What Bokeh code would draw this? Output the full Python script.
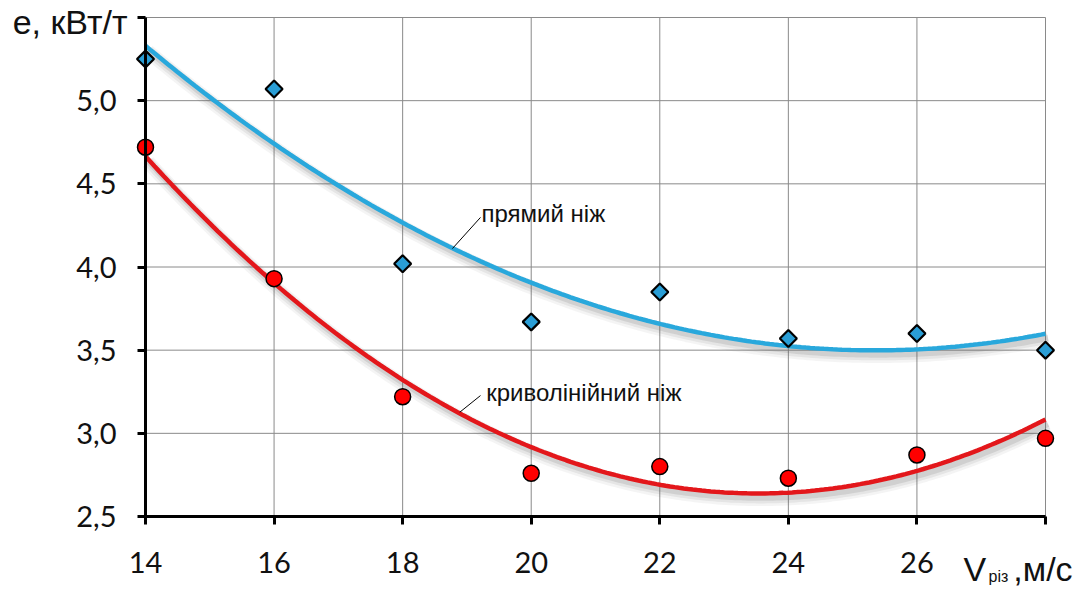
import numpy as np
from bokeh.plotting import figure
from bokeh.models import Label, FixedTicker, Range1d, LinearAxis
from bokeh.embed import file_html
from bokeh.resources import INLINE

speed = [14, 16, 18, 20, 22, 24, 26, 28]
straight_knife = [5.25, 5.07, 4.02, 3.67, 3.85, 3.57, 3.60, 3.50]
curved_knife = [4.72, 3.93, 3.22, 2.76, 2.80, 2.73, 2.87, 2.97]
x_ticks = [14, 16, 18, 20, 22, 24, 26, 28]
y_ticks = [2.5, 3.0, 3.5, 4.0, 4.5, 5.0, 5.5]

BLUE = "#29a8dc"
RED = "#e3171b"

X0, X1 = 14, 28
Y0, Y1 = 2.5, 5.5
W, H = 1079, 590
# frame fills the canvas; data box sits at canvas px x 145..1045, y 17..516
L, R, T, B = 145, 1045, 17, 516
sx = (R - L) / (X1 - X0)
sy = (B - T) / (Y1 - Y0)
p = figure(width=W, height=H, output_backend="svg", toolbar_location=None,
           x_axis_location=None, y_axis_location=None,
           x_range=Range1d(X0 - L / sx, X1 + (W - R) / sx),
           y_range=Range1d(Y0 - (H - B) / sy, Y1 + T / sy),
           min_border_left=0, min_border_right=0, min_border_top=0, min_border_bottom=0)
p.outline_line_color = None
p.background_fill_color = "white"
p.xgrid.visible = False
p.ygrid.visible = False

# grid lines within the data box
p.segment(x0=x_ticks, y0=[Y0] * len(x_ticks), x1=x_ticks, y1=[Y1] * len(x_ticks),
          line_color="#8a8a8a", line_width=1)
p.segment(x0=[X0] * len(y_ticks), y0=y_ticks, x1=[X1] * len(y_ticks), y1=y_ticks,
          line_color="#8a8a8a", line_width=1)

# trend curves: quadratic least-squares fit of each series
xs = np.linspace(X0, X1, 200)
for data, col in [(straight_knife, BLUE), (curved_knife, RED)]:
    coef = np.polyfit(speed, data, 2)
    ys = np.polyval(coef, xs)
    for w, a, dy in [(14, 0.07, -0.034), (10, 0.10, -0.030), (6, 0.16, -0.026)]:
        p.line(xs + 0.04, ys + dy, line_color="#666666", line_width=w, line_alpha=a)
    p.line(xs, ys, line_color=col, line_width=4.5)

# axes fixed at the data box edges
xax = LinearAxis(fixed_location=Y0, bounds=(X0, X1), ticker=FixedTicker(ticks=x_ticks))
yax = LinearAxis(fixed_location=X0, bounds=(Y0, Y1), ticker=FixedTicker(ticks=y_ticks))
for ax in (xax, yax):
    ax.axis_line_width = 3
    ax.axis_line_color = "black"
    ax.major_tick_line_width = 3
    ax.major_tick_line_color = "black"
    ax.major_tick_out = 8
    ax.major_tick_in = 0
    ax.minor_tick_line_color = None
    ax.major_label_text_font = "Lato"
    ax.major_label_text_font_size = "29px"
    ax.major_label_text_color = "#111111"
xax.major_label_standoff = 27
yax.major_label_standoff = 21
xax.major_label_overrides = {28: ""}
yax.major_label_overrides = {v: ("" if v == 5.5 else f"{v:.1f}".replace(".", ",")) for v in y_ticks}
p.add_layout(xax, "below")
p.add_layout(yax, "left")

p.scatter(speed, straight_knife, marker="square", angle=np.pi / 4, size=12,
          fill_color="#2a9ed6", line_color="black", line_width=2.2)
p.scatter(speed, curved_knife, marker="circle", size=16, fill_color="#ff0000",
          line_color="black", line_width=1.5)

# leader lines and series labels
p.line([18.775, 19.211], [4.111, 4.298], line_color="black", line_width=1)
p.line([18.889, 19.211], [3.127, 3.227], line_color="black", line_width=1)
lf = "Liberation Sans"
p.add_layout(Label(x=19.227, y=4.322, text="прямий ніж", text_font=lf,
                   text_font_size="24px", text_color="#111111", text_baseline="middle"))
p.add_layout(Label(x=19.30, y=3.245, text="криволінійний ніж", text_font=lf,
                   text_font_size="24px", text_color="#111111", text_baseline="middle"))

# axis titles
p.add_layout(Label(x=13.72, y=5.47, text="e, кВт/т", text_font=lf, text_font_size="34px",
                   text_color="#111111", text_align="right", text_baseline="middle"))
p.add_layout(Label(x=26.724, y=2.183, text="V", text_font=lf, text_font_size="34px",
                   text_color="#111111", text_baseline="alphabetic"))
p.add_layout(Label(x=27.113, y=2.14, text="різ", text_font=lf, text_font_size="16px",
                   text_color="#111111", text_baseline="alphabetic"))
p.add_layout(Label(x=27.50, y=2.183, text=",м/с", text_font=lf, text_font_size="34px",
                   text_color="#111111", text_baseline="alphabetic"))

open("out.html", "w").write(file_html(p, INLINE))
